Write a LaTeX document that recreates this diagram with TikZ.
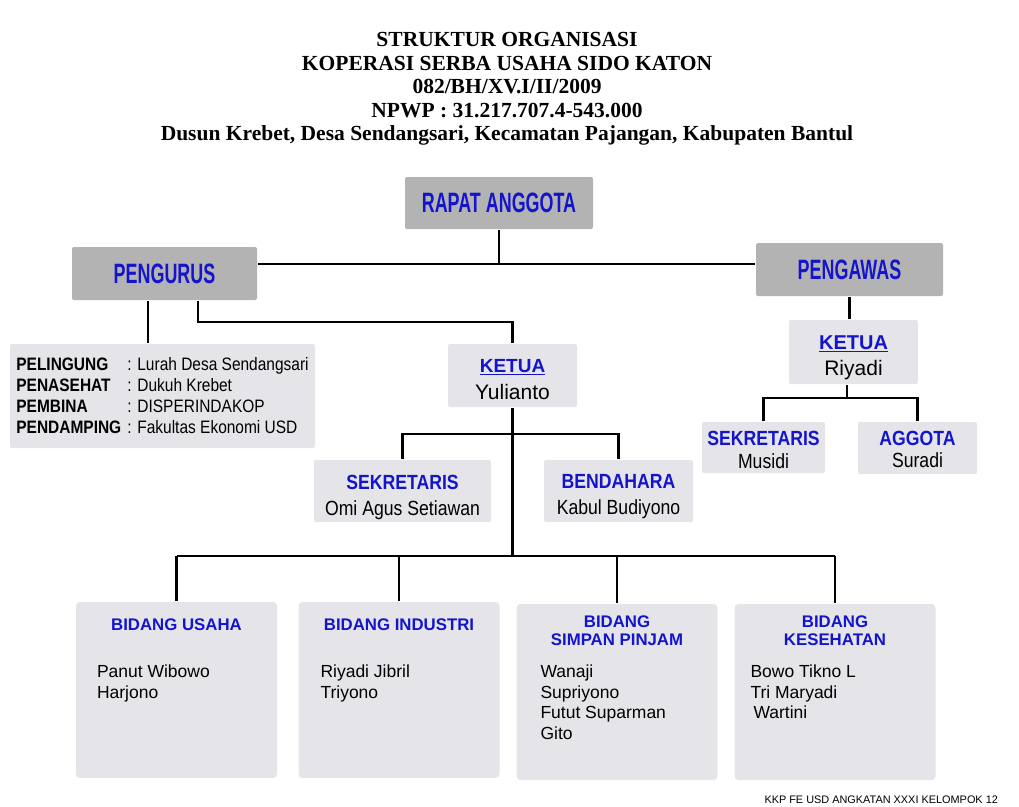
\documentclass[tikz,border=0pt]{standalone}
\usepackage{fontspec}
\setmainfont{Liberation Sans}
\newfontfamily\titlefont{Liberation Serif}
\newfontfamily\narrowfont[FakeStretch=0.64]{Liberation Sans}
\newfontfamily\sempitfont[FakeStretch=0.86]{Liberation Sans}
\usetikzlibrary{positioning}

\definecolor{headgray}{RGB}{179,179,179}
\definecolor{boxgray}{RGB}{229,229,233}
\definecolor{headblue}{RGB}{20,20,205}

\newcommand\jabatan[1]{{\color{headblue}\bfseries #1}}
\newcommand\peran[1]{\makebox[111pt][l]{\bfseries #1}}

\begin{document}
\begin{tikzpicture}[x=1pt, y=-1pt,
					line width=2.2pt,
					head/.style={fill=headgray, rounded corners=2pt, inner sep=0pt,
						text=headblue, font=\narrowfont\bfseries\fontsize{28}{30}\selectfont},
					post/.style={fill=boxgray, rounded corners=2pt, inner sep=0pt},
					posttext/.style={inner sep=0pt, align=center},
					bidang/.style={fill=boxgray, rounded corners=4pt, inner sep=0pt,
						minimum width=201pt, minimum height=176pt},
					bidangtitle/.style={inner sep=0pt, align=center, text=headblue,
						font=\bfseries\fontsize{16.8}{18}\selectfont},
					anggota/.style={anchor=north west, inner sep=0pt, align=left,
						font=\fontsize{17.5}{20.5}\selectfont}]

	\useasboundingbox (0,0) rectangle (1019,806);

	% judul
	\node[inner sep=0pt, align=center, font=\titlefont\bfseries\fontsize{21.5}{23.5}\selectfont]
		(judul) at (507,89) {STRUKTUR ORGANISASI\\
		KOPERASI SERBA USAHA SIDO KATON\\
		082/BH/XV.I/II/2009\\
		NPWP : 31.217.707.4-543.000\\
		Dusun Krebet, Desa Sendangsari, Kecamatan Pajangan, Kabupaten Bantul};

	% pimpinan
	\node[head, minimum width=188pt, minimum height=52pt] (rapat) at (499,203) {RAPAT ANGGOTA};
	\node[head, minimum width=185pt, minimum height=53pt] (pengurus) at (164.5,273.5) {PENGURUS};
	\node[head, minimum width=187pt, minimum height=53pt] (pengawas) at (849.5,269.5) {PENGAWAS};

	% pengawas
	\node[post, minimum width=129pt, minimum height=64pt] (ketuaW) at (853.5,352) {};
	\node[post, minimum width=123pt, minimum height=51pt] (sekW) at (763.5,447.5) {};
	\node[post, minimum width=119pt, minimum height=52pt] (anggW) at (917.5,448) {};
	\node[posttext, font=\fontsize{21}{26}\selectfont] (ketuaWt) at ([yshift=-6pt]ketuaW.center)
		{\jabatan{\underline{\fontsize{20}{26}\selectfont KETUA}}\\Riyadi};
	\node[posttext, font=\sempitfont\fontsize{20.5}{23}\selectfont] (sekWt) at ([yshift=-2pt]sekW.center)
		{\jabatan{SEKRETARIS}\\Musidi};
	\node[posttext, font=\sempitfont\fontsize{20.5}{22}\selectfont] (anggWt) at ([yshift=-1pt]anggW.center)
		{\jabatan{AGGOTA}\\Suradi};

	% pengurus
	\node[post, minimum width=305pt, minimum height=104pt, align=left,
		font=\sempitfont\fontsize{18}{21}\selectfont] (info) at (162.5,396)
		{\peran{PELINGUNG}: Lurah Desa Sendangsari\\
		 \peran{PENASEHAT}: Dukuh Krebet\\
		 \peran{PEMBINA}: DISPERINDAKOP\\
		 \peran{PENDAMPING}: Fakultas Ekonomi USD};
	\node[post, minimum width=129pt, minimum height=63pt] (ketuaP) at (512.5,375.5) {};
	\node[post, minimum width=177pt, minimum height=62pt] (sekP) at (402.5,491) {};
	\node[post, minimum width=149pt, minimum height=62pt] (bend) at (618.5,491) {};
	\node[posttext, font=\fontsize{21}{27}\selectfont] (ketuaPt) at ([yshift=-4pt]ketuaP.center)
		{\jabatan{\underline{\fontsize{19}{27}\selectfont KETUA}}\\Yulianto};
	\node[posttext, font=\sempitfont\fontsize{20.5}{26}\selectfont] (sekPt) at ([yshift=-6pt]sekP.center)
		{\jabatan{SEKRETARIS}\\Omi Agus Setiawan};
	\node[posttext, font=\sempitfont\fontsize{20.5}{26}\selectfont] (bendt) at ([yshift=-6pt]bend.center)
		{\jabatan{BENDAHARA}\\Kabul Budiyono};

	% bidang
	\node[bidang] (b1) at (176.5,690) {};
	\node[bidang] (b2) at (399,690) {};
	\node[bidang] (b3) at (617,692) {};
	\node[bidang] (b4) at (835,692) {};
	\node[bidangtitle] (b1t) at ([yshift=-24pt]b1.north) {BIDANG USAHA};
	\node[bidangtitle] (b2t) at ([yshift=-24pt]b2.north) {BIDANG INDUSTRI};
	\node[bidangtitle] (b3t) at ([yshift=-28pt]b3.north) {BIDANG\\SIMPAN PINJAM};
	\node[bidangtitle] (b4t) at ([yshift=-28pt]b4.north) {BIDANG\\KESEHATAN};
	\node[anggota] (b1n) at ([xshift=21pt,yshift=-63pt]b1.north west) {Panut Wibowo\\Harjono};
	\node[anggota] (b2n) at ([xshift=22pt,yshift=-63pt]b2.north west) {Riyadi Jibril\\Triyono};
	\node[anggota] (b3n) at ([xshift=24pt,yshift=-61pt]b3.north west)
		{Wanaji\\Supriyono\\Futut Suparman\\Gito};
	\node[anggota] (b4n) at ([xshift=16pt,yshift=-61pt]b4.north west)
		{Bowo Tikno L\\Tri Maryadi\\\hspace{3pt}Wartini};

	\node[anchor=south east, inner sep=0pt, font=\fontsize{10.9}{12}\selectfont]
		(kkp) at (999,805) {KKP FE USD ANGKATAN XXXI KELOMPOK 12};

	% garis
	\coordinate (hub) at (499,264);
	\coordinate (pl) at (148,0);
	\coordinate (pk) at (198,322);
	\coordinate (wsplit) at (847,398);
	\coordinate (ksplit) at (512.5,434);
	\coordinate (bus) at (512.5,556);

	\draw (rapat.south) -- (hub);
	\draw (pengurus.east |- hub) -- (pengawas.west |- hub);
	\draw (pengawas.south) -- (pengawas.south |- ketuaW.north);
	\draw (ketuaW.south -| wsplit) -- (wsplit);
	\draw (sekW.north) |- (wsplit) -| (anggW.north);
	\draw (pengurus.south -| pl) -- (info.north -| pl);
	\draw (pengurus.south -| pk) |- (ketuaP.north |- pk) -- (ketuaP.north);
	\draw (ketuaP.south) -- (bus);
	\draw (sekP.north) |- (ksplit) -| (bend.north);
	\draw (b1.north |- bus) -- (b4.north |- bus);
	\foreach \b in {b1,b2,b3,b4}
		\draw (\b.north) -- (\b.north |- bus);
\end{tikzpicture}
\end{document}
